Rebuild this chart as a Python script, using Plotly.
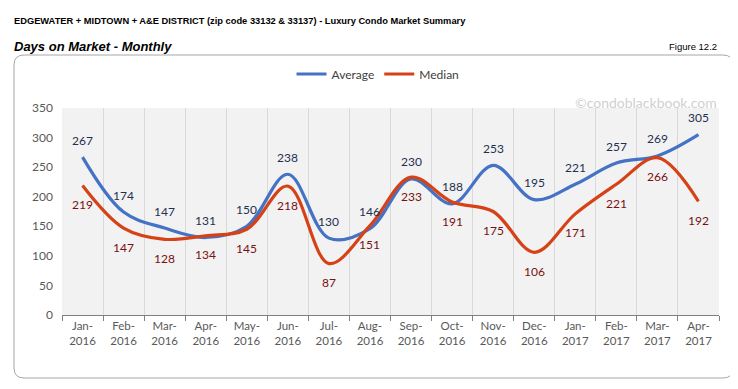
import plotly.graph_objects as go

months = ["Jan-<br>2016", "Feb-<br>2016", "Mar-<br>2016", "Apr-<br>2016", "May-<br>2016", "Jun-<br>2016",
          "Jul-<br>2016", "Aug-<br>2016", "Sep-<br>2016", "Oct-<br>2016", "Nov-<br>2016", "Dec-<br>2016",
          "Jan-<br>2017", "Feb-<br>2017", "Mar-<br>2017", "Apr-<br>2017"]
average = [267, 174, 147, 131, 150, 238, 130, 146, 230, 188, 253, 195, 221, 257, 269, 305]
median = [219, 147, 128, 134, 145, 218, 87, 151, 233, 191, 175, 106, 171, 221, 266, 192]

# page has an 8px body margin; lay out in screen pixels and compensate
OFF = 8
W, H = 738 - OFF, 389 - OFF
L, R, T, B = 62 - OFF, 19, 108 - OFF, 74
PW, PH = W - L - R, H - T - B

def px(x):
    return (x - OFF - L) / PW

def py(y):
    return (H - B - (y - OFF)) / PH

BLUE = "#4472c4"
RED = "#d64218"
LBL_FONT = "Lato, Open Sans, sans-serif"
HEAD = "Liberation Sans, Arial, sans-serif"

fig = go.Figure()
fig.add_trace(go.Scatter(x=months, y=average, name="Average", mode="lines",
                         line=dict(color=BLUE, width=3.2, shape="spline", smoothing=1.0)))
fig.add_trace(go.Scatter(x=months, y=median, name="Median", mode="lines",
                         line=dict(color=RED, width=3.2, shape="spline", smoothing=1.0)))

annotations = []
for m, v in zip(months, average):
    annotations.append(dict(x=m, y=v, text=str(v), showarrow=False, yshift=17,
                            font=dict(family=LBL_FONT, size=12, color="#1f3050")))
for m, v in zip(months, median):
    annotations.append(dict(x=m, y=v, text=str(v), showarrow=False, yshift=-19,
                            font=dict(family=LBL_FONT, size=12, color="#7a1010")))

annotations += [
    dict(xref="paper", yref="paper", x=px(12), y=py(21), xanchor="left", yanchor="middle",
         text="EDGEWATER + MIDTOWN + A&E DISTRICT (zip code 33132 & 33137) - Luxury Condo Market Summary",
         showarrow=False, font=dict(family=HEAD, size=9.3, color="#000000", weight=600)),
    dict(xref="paper", yref="paper", x=px(12), y=py(46), xanchor="left", yanchor="middle",
         text="<b><i>Days on Market - Monthly</i></b>",
         showarrow=False, font=dict(family=HEAD, size=13, color="#000000")),
    dict(xref="paper", yref="paper", x=px(719), y=py(46), xanchor="right", yanchor="middle",
         text="Figure 12.2",
         showarrow=False, font=dict(family=HEAD, size=9.5, color="#000000")),
    dict(xref="paper", yref="paper", x=px(719), y=py(103), xanchor="right", yanchor="middle",
         text="©condoblackbook.com",
         showarrow=False, font=dict(family=LBL_FONT, size=14, color="#d0d0d0")),
]

# rounded outer border
x0, x1, y0, y1, r = 14, 733, 55, 378, 10
path = (f"M {px(x0 + r)} {py(y0)} L {px(x1 - r)} {py(y0)} "
        f"Q {px(x1)} {py(y0)} {px(x1)} {py(y0 + r)} "
        f"L {px(x1)} {py(y1 - r)} Q {px(x1)} {py(y1)} {px(x1 - r)} {py(y1)} "
        f"L {px(x0 + r)} {py(y1)} Q {px(x0)} {py(y1)} {px(x0)} {py(y1 - r)} "
        f"L {px(x0)} {py(y0 + r)} Q {px(x0)} {py(y0)} {px(x0 + r)} {py(y0)} Z")

fig.update_layout(
    width=W, height=H,
    margin=dict(l=L, r=R, t=T, b=B),
    paper_bgcolor="white",
    plot_bgcolor="#f2f2f2",
    showlegend=True,
    legend=dict(orientation="h", xanchor="center", yanchor="middle",
                x=px(378), y=py(74), font=dict(family=LBL_FONT, size=12, color="#404040"),
                bgcolor="rgba(0,0,0,0)"),
    annotations=annotations,
    shapes=[dict(type="path", path=path, xref="paper", yref="paper",
                 line=dict(color="#a6a6a6", width=1), layer="below")],
    xaxis=dict(tickson="boundaries", showgrid=True, gridcolor="#d9d9d9", gridwidth=1,
               ticks="outside", ticklen=5, tickcolor="#808080",
               showline=True, linecolor="#808080", linewidth=1,
               tickfont=dict(family=LBL_FONT, size=11.5, color="#595959"),
               range=[-0.5, 15.5], fixedrange=True),
    yaxis=dict(range=[0, 350], dtick=50, showgrid=False, zeroline=False,
               tickfont=dict(family=LBL_FONT, size=12, color="#595959"),
               ticks="", ticklabelstandoff=8),
)

fig.write_html("out.html")
